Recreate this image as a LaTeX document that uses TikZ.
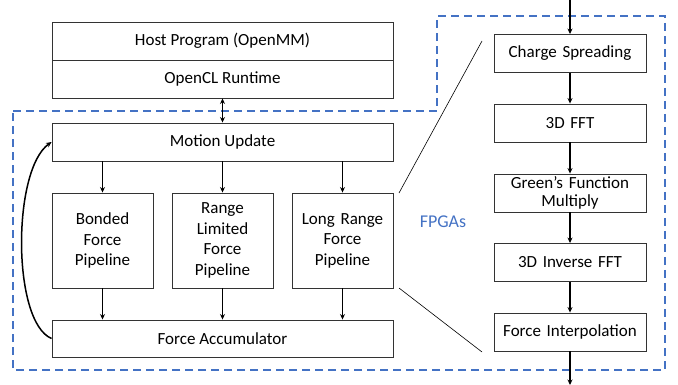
\documentclass[tikz,border=0pt]{standalone}
\usepackage{fontspec}
\setmainfont{Carlito}
\usetikzlibrary{arrows.meta}
\definecolor{fpgablue}{HTML}{4472C4}
\begin{document}
\begin{tikzpicture}[x=1pt,y=-1pt,
  box/.style={draw=black!80, line width=0.9pt, fill=white, align=center, inner sep=2pt,
    font=\fontsize{17}{20.5}\selectfont},
  wide/.style={box, minimum width=341pt, minimum height=38pt},
  pipe/.style={box, minimum width=101pt, minimum height=95pt, text width=97pt},
  rbox/.style={box, minimum width=152pt, minimum height=38pt, text width=148pt},
  tip/.style={Stealth[length=5.5pt,width=5pt]},
  arr/.style={-{Stealth[length=5.5pt,width=5pt]}, line width=1.5pt},
  thin/.style={line width=0.6pt}]
\useasboundingbox (0,0) rectangle (678,385);
% dashed FPGA boundary
\draw[fpgablue, line width=1.6pt, dash pattern=on 8pt off 5pt]
  (13,111) -- (437,111) -- (437,16) -- (665,16) -- (665,370) -- (13,370) -- cycle;
\node[wide] (host) at (222.5,41) {Host Program (OpenMM)};
\node[wide] (ocl) at (222.5,79) {OpenCL Runtime};
\node[wide] (mu) at (222.5,142) {Motion Update};
\node[pipe] (bf) at (102.5,240.5) {Bonded\\Force\\Pipeline};
\node[pipe] (rl) at (222.5,240.5) {Range\\Limited\\Force\\Pipeline};
\node[pipe] (lr) at (342.5,240.5) {Long Range\\Force\\Pipeline};
\node[wide, minimum height=37pt] (fa) at (222.5,338.5) {Force Accumulator};
\node[text=fpgablue, font=\fontsize{18}{20}\selectfont] (lbl) at (443,222) {FPGAs};
\node[rbox] (cs) at (570,53.5) {Charge Spreading};
\node[rbox] (fft) at (570,123) {3D FFT};
\node[rbox, font=\fontsize{17}{18.5}\selectfont] (gf) at (570,193) {Green’s Function\\Multiply};
\node[rbox] (ifft) at (570,262.5) {3D Inverse FFT};
\node[rbox] (fi) at (570,332) {Force Interpolation};
\coordinate (tin) at (570,0);
\coordinate (tout) at (570,385);
% arrows
\draw[{Stealth[length=5.5pt,width=5pt]}-{Stealth[length=5.5pt,width=5pt]}, line width=1.5pt] (ocl.south) -- (mu.north);
\foreach \p in {bf,rl,lr}{
  \draw[arr] (mu.south -| \p.north) -- (\p.north);
  \draw[arr] (\p.south) -- (fa.north -| \p.south);
}
\draw[arr] (fa.west) .. controls (12,322) and (12,170) .. (mu.west);
\draw[arr] (tin) -- (cs.north);
\draw[arr] (cs) -- (fft);
\draw[arr] (fft) -- (gf);
\draw[arr] (gf) -- (ifft);
\draw[arr] (ifft) -- (fi);
\draw[arr] (fi) -- (tout);
% zoom lines
\coordinate (z1) at (399,193);
\coordinate (z2) at (482,41);
\coordinate (z3) at (399,288);
\coordinate (z4) at (482,352);
\draw[thin] (z1) -- (z2);
\draw[thin] (z3) -- (z4);
\end{tikzpicture}
\end{document}
